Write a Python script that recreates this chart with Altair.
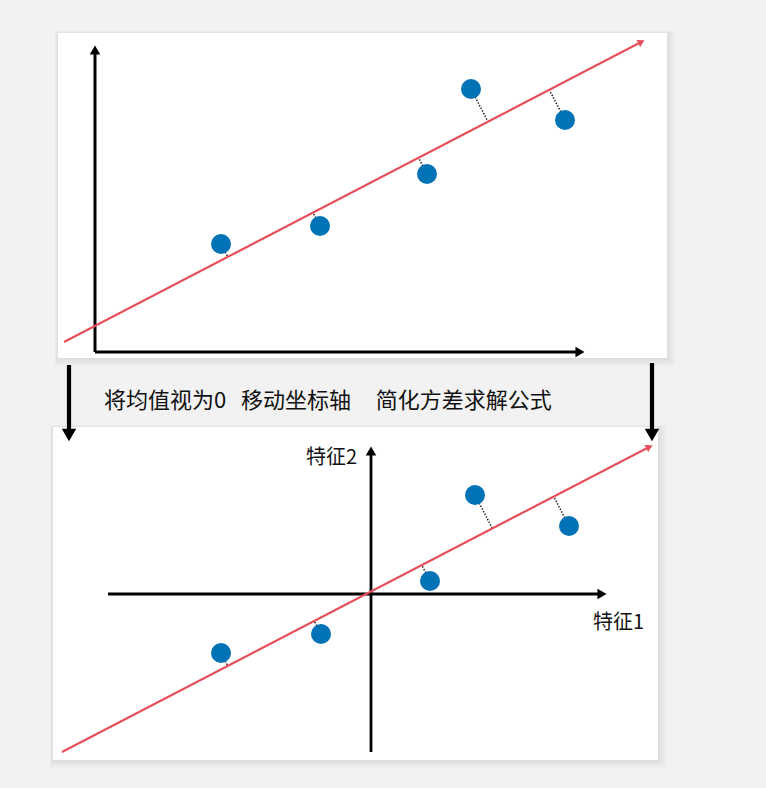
import altair as alt
import pandas as pd
import numpy as np

W, H = 766, 788

# ---- layout data (canvas units: x right, y down) ----
panel_left = [58, 53]
panel_top = [33, 427]
panel_right = [667, 658]
panel_bottom = [358, 760]

# sample points, top panel (original axes) and bottom panel (centred axes)
top_pts_x = [221, 320, 427, 471, 565]
top_pts_y = [244, 226, 174, 89, 120]
bot_pts_x = [221, 321, 430, 475, 569]
bot_pts_y = [653, 634, 581, 495, 526]

# fitted direction lines: start and arrow tip
top_line_x = [64, 645]
top_line_y = [342, 40]
bot_line_x = [62, 653]
bot_line_y = [752, 445]

# black axes: (x1, y1) -> (tip x, tip y)
axes_x1 = [95, 95, 108, 371, 69, 652]
axes_y1 = [352, 352, 594, 752, 365, 363]
axes_x2 = [95, 585, 607, 371, 69, 652]
axes_y2 = [45, 352, 594, 446, 441, 441]
axes_w = [3, 3, 2.8, 2.8, 4.2, 4.2]

caption = "将均值视为0\u00a0\u00a0\u00a0移动坐标轴\u00a0\u00a0\u00a0\u00a0\u00a0简化方差求解公式"
label_text = ["特征2", "特征1"]
label_x = [357, 593]
label_y = [458, 623]
label_align = ["right", "left"]

RED = "#e5505a"
BLUE = "#0072b6"

X = lambda f="x": alt.X(f"{f}:Q", scale=alt.Scale(domain=[0, W], nice=False, zero=False), axis=None)
Y = lambda f="y": alt.Y(f"{f}:Q", scale=alt.Scale(domain=[0, H], nice=False, zero=False, reverse=True), axis=None)

layers = []

# soft panel shadows (mostly right / bottom)
shadow_rows = []
for i in range(2):
    for k in range(1, 8):
        shadow_rows.append(dict(x=panel_left[i] - k * 0.5, x2=panel_right[i] + k * 1.2,
                                y=panel_top[i] - k * 0.3, y2=panel_bottom[i] + k * 1.2))
layers.append(alt.Chart(pd.DataFrame(shadow_rows)).mark_rect(color="#000000", opacity=0.012).encode(
    x=X(), x2="x2:Q", y=Y(), y2="y2:Q"))

# white panels
panels = pd.DataFrame(dict(x=panel_left, x2=panel_right, y=panel_top, y2=panel_bottom))
layers.append(alt.Chart(panels).mark_rect(color="white").encode(x=X(), x2="x2:Q", y=Y(), y2="y2:Q"))

# black axes / arrows
def shorten(x1, y1, x2, y2, d):
    L = np.hypot(x2 - x1, y2 - y1)
    return x2 - (x2 - x1) / L * d, y2 - (y2 - y1) / L * d

ax_rows, head_rows = [], []
for x1, y1, x2, y2, w in zip(axes_x1, axes_y1, axes_x2, axes_y2, axes_w):
    big = w >= 3.5
    ex, ey = shorten(x1, y1, x2, y2, 10 if big else 8)
    ax_rows.append(dict(x=x1, y=y1, x2=ex, y2=ey, w=w))
    hx, hy = shorten(x1, y1, x2, y2, 6 if big else 5)
    ang = (np.degrees(np.arctan2(y2 - y1, x2 - x1)) + 360) % 360
    head_rows.append(dict(x=hx, y=hy, a=ang, s=210 if big else 110))
axdf = pd.DataFrame(ax_rows)
layers.append(alt.Chart(axdf).mark_rule(color="black").encode(
    x=X(), y=Y(), x2="x2:Q", y2="y2:Q",
    strokeWidth=alt.StrokeWidth("w:Q", scale=None)))
layers.append(alt.Chart(pd.DataFrame(head_rows)).mark_point(
    shape="triangle-right", filled=True, color="black", opacity=1).encode(
    x=X(), y=Y(), angle=alt.Angle("a:Q", scale=None), size=alt.Size("s:Q", scale=None)))

# red fitted lines with arrowheads
red_rows, red_heads, proj_rows = [], [], []
for lx, ly, px, py in [(top_line_x, top_line_y, top_pts_x, top_pts_y),
                       (bot_line_x, bot_line_y, bot_pts_x, bot_pts_y)]:
    ex, ey = shorten(lx[0], ly[0], lx[1], ly[1], 7)
    red_rows.append(dict(x=lx[0], y=ly[0], x2=ex, y2=ey))
    hx, hy = shorten(lx[0], ly[0], lx[1], ly[1], 4)
    ang = (np.degrees(np.arctan2(ly[1] - ly[0], lx[1] - lx[0])) + 360) % 360
    red_heads.append(dict(x=hx, y=hy, a=ang))
    d = np.array([lx[1] - lx[0], ly[1] - ly[0]], float)
    d /= np.linalg.norm(d)
    for a, b in zip(px, py):
        t = (a - lx[0]) * d[0] + (b - ly[0]) * d[1]
        proj_rows.append(dict(x=a, y=b, x2=lx[0] + t * d[0], y2=ly[0] + t * d[1]))

layers.append(alt.Chart(pd.DataFrame(proj_rows)).mark_rule(
    color="#222222", strokeWidth=1.5, strokeDash=[1.5, 1.5]).encode(
    x=X(), y=Y(), x2="x2:Q", y2="y2:Q"))
layers.append(alt.Chart(pd.DataFrame(red_rows)).mark_rule(color=RED, strokeWidth=2.2).encode(
    x=X(), y=Y(), x2="x2:Q", y2="y2:Q"))
layers.append(alt.Chart(pd.DataFrame(red_heads)).mark_point(
    shape="triangle-right", filled=True, color=RED, opacity=1, size=65).encode(
    x=X(), y=Y(), angle=alt.Angle("a:Q", scale=None)))

# blue sample points
pts = pd.DataFrame(dict(x=top_pts_x + bot_pts_x, y=top_pts_y + bot_pts_y))
layers.append(alt.Chart(pts).mark_circle(color=BLUE, opacity=1, size=400).encode(x=X(), y=Y()))

# texts
cap = pd.DataFrame(dict(x=[104], y=[401], t=[caption]))
layers.append(alt.Chart(cap).mark_text(
    font="Noto Sans CJK SC", fontSize=22, align="left", baseline="middle", color="#111111").encode(
    x=X(), y=Y(), text="t:N"))
lab = pd.DataFrame(dict(x=label_x, y=label_y, t=label_text))
for i in range(2):
    layers.append(alt.Chart(lab.iloc[[i]]).mark_text(
        font="Noto Sans CJK SC", fontSize=20, align=label_align[i], baseline="middle",
        color="#111111").encode(x=X(), y=Y(), text="t:N"))

chart = alt.layer(*layers).properties(
    width=W, height=H, background="#f2f2f2", padding=0,
    autosize=alt.AutoSizeParams(type="none"),
).configure_view(stroke=None)

chart.save("out.html", embed_options={"renderer": "svg", "actions": False})
